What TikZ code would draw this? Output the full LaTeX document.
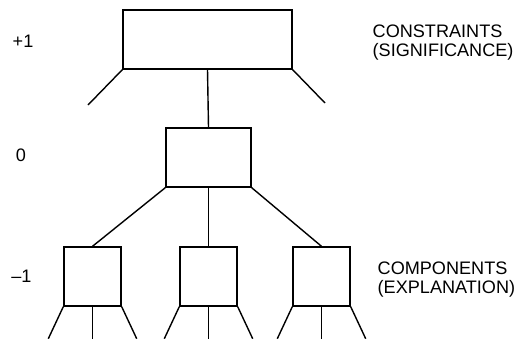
\documentclass[tikz,border=0pt]{standalone}
\usepackage{fontspec}
\setmainfont{Liberation Sans}
\usetikzlibrary{positioning}

\begin{document}
\begin{tikzpicture}[x=0.02cm, y=-0.02cm, line width=0.8pt,
            level/.style={rectangle, draw, minimum height=1.18cm, inner sep=0pt},
            tag/.style={font=\fontsize{10.3}{10.8}\selectfont, inner sep=0pt},
            note/.style={font=\fontsize{10.3}{10.8}\selectfont, align=left, anchor=base west, inner sep=0pt}
        ]
            \useasboundingbox (0,0) rectangle (517,338);

            \node[level, minimum width=3.38cm] (sig) at (207.5,39.5) {};
            \node[level, minimum width=1.7cm] (sys) at (208.5,157.5) {};

            \node[level, minimum width=1.14cm] (lc) at (92.5,276.5) {};
            \node[level, minimum width=1.14cm] (mc) at (208.5,276.5) {};
            \node[level, minimum width=1.14cm] (rc) at (321.5,276.5) {};

            \coordinate (sigl) at (88,105);
            \coordinate (sigr) at (325,103);
            \draw (sig.south west) -- (sigl);
            \draw (sig.south east) -- (sigr);

            \draw (sig.south) -- (sys.north);
            \draw (sys.south west) -- (lc.north);
            \draw (sys.south) -- (mc.north);
            \draw (sys.south east) -- (rc.north);

            \foreach \b in {lc, mc, rc} {
                \path (\b.south west) ++(-15,32) coordinate (\b-l);
                \path (\b.south) ++(0,32) coordinate (\b-m);
                \path (\b.south east) ++(15,32) coordinate (\b-r);
                \draw (\b.south west) -- (\b-l);
                \draw (\b.south) -- (\b-m);
                \draw (\b.south east) -- (\b-r);
            }

            \node[tag] (up) at (23,41.5) {+1};
            \node[tag] (zero) at (21,155) {0};
            \node[tag] (down) at (21.5,276.5) {\textendash1};

            \node[note] (cons) at (372,56) {CONSTRAINTS\\(SIGNIFICANCE)};
            \node[note] (comp) at (377,293) {COMPONENTS\\(EXPLANATION)};
        \end{tikzpicture}
\end{document}
